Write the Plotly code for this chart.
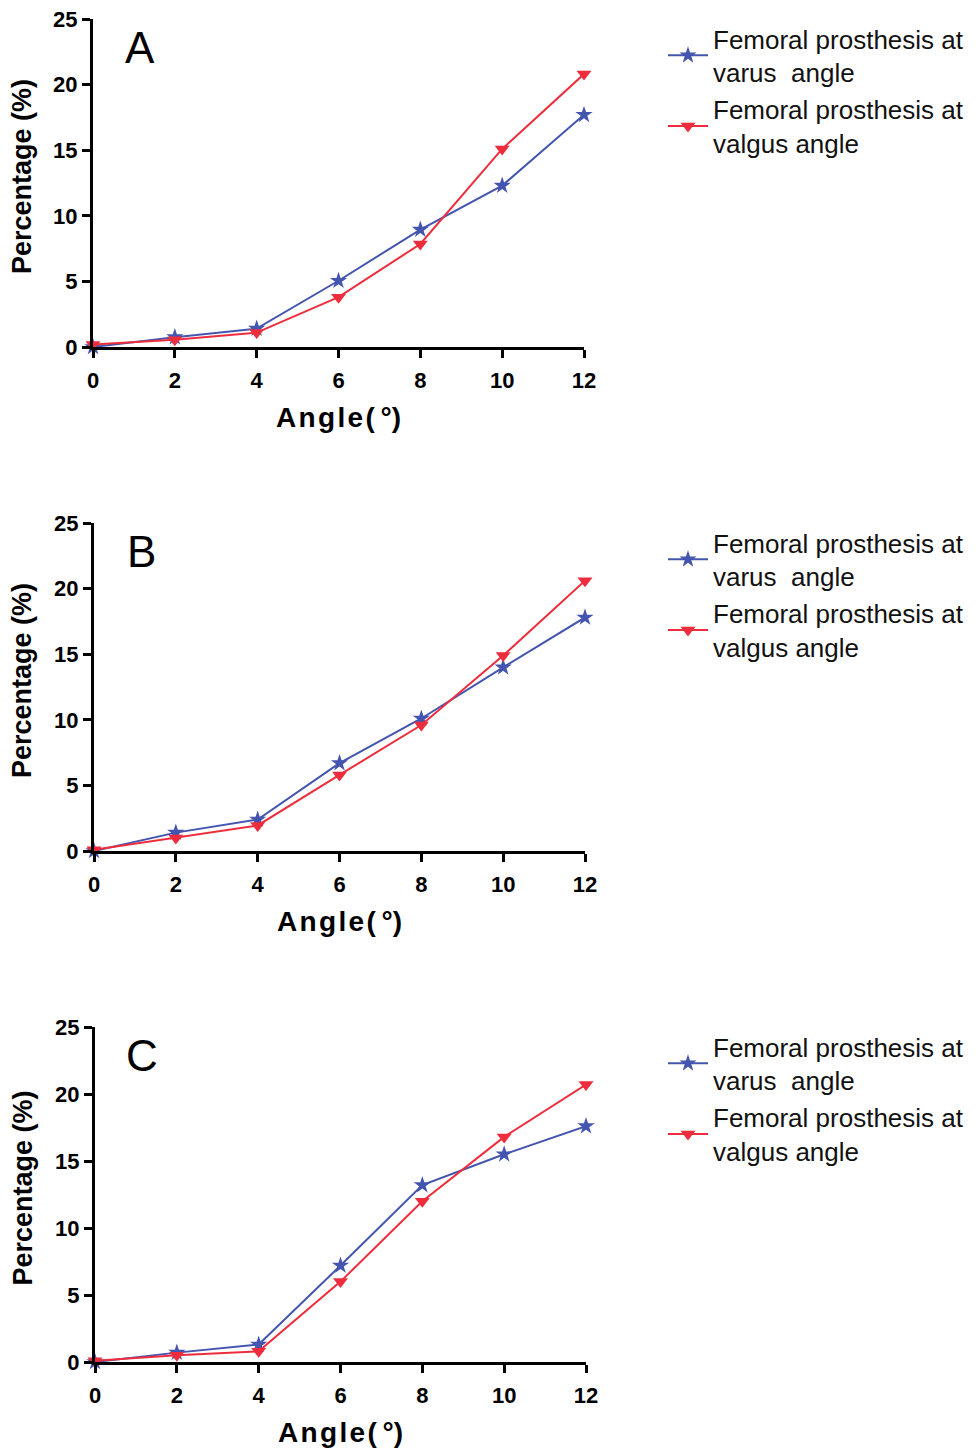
import plotly.graph_objects as go

angles = [0, 2, 4, 6, 8, 10, 12]
panels = ["A", "B", "C"]
varus_A = [0.0, 0.75, 1.4, 5.05, 8.95, 12.3, 17.7]
valgus_A = [0.2, 0.55, 1.1, 3.8, 7.85, 15.1, 20.8]
varus_B = [0.0, 1.4, 2.4, 6.7, 10.1, 14.0, 17.8]
valgus_B = [0.1, 1.0, 1.95, 5.8, 9.6, 14.9, 20.6]
varus_C = [0.0, 0.7, 1.3, 7.2, 13.2, 15.5, 17.6]
valgus_C = [0.1, 0.5, 0.8, 6.0, 12.0, 16.8, 20.7]
varus_name = "Femoral prosthesis at<br>varus  angle"
valgus_name = "Femoral prosthesis at<br>valgus angle"
y_ticks = [0, 5, 10, 15, 20, 25]
x_ticks = [0, 2, 4, 6, 8, 10, 12]
x_title = "A\u200an\u200ag\u200al\u200ae\u200a(\u2009°)"
y_title = "Percentage (%)"

BLUE = "#4455B0"
RED = "#EE2D3C"
OFF = 8  # page body margin
W, H = 978 - OFF, 1454 - OFF

series = [(varus_A, valgus_A), (varus_B, valgus_B), (varus_C, valgus_C)]
# pixel boxes in page coords (left, right, top, bottom)
boxes = [(93, 584, 19, 347), (94, 585, 523, 851), (95, 586, 1027, 1362)]

fig = go.Figure()
axis_common = dict(
    showline=True, linecolor="black", linewidth=3,
    ticks="outside", ticklen=8, tickwidth=2.5, tickcolor="black",
    showgrid=False, zeroline=False, automargin=False, ticklabeloverflow="allow",
    tickfont=dict(family="Liberation Sans", size=22, color="black", weight="bold"),
)
for i, (vr, vg) in enumerate(series):
    sfx = "" if i == 0 else str(i + 1)
    leg = "legend" + sfx
    fig.add_trace(go.Scatter(
        x=angles, y=vr, name=varus_name, mode="lines+markers",
        line=dict(color=BLUE, width=2),
        marker=dict(symbol="star", size=13, color=BLUE),
        xaxis="x" + sfx, yaxis="y" + sfx, legend=leg, cliponaxis=False))
    fig.add_trace(go.Scatter(
        x=angles, y=vg, name=valgus_name, mode="lines+markers",
        line=dict(color=RED, width=2),
        marker=dict(symbol="triangle-down", size=13, color=RED),
        xaxis="x" + sfx, yaxis="y" + sfx, legend=leg, cliponaxis=False))
    l, r, t, b = [v - OFF for v in boxes[i]]
    xd = [l / W, r / W]
    yd = [1 - b / H, 1 - t / H]
    fig.layout["xaxis" + sfx] = dict(
        axis_common, domain=xd, range=[0, 12], tickvals=x_ticks,
        anchor="y" + sfx, ticklabelstandoff=4,
        title=dict(text=x_title, standoff=15,
                   font=dict(family="Liberation Sans", size=28,
                             color="black", weight="bold")))
    fig.layout["yaxis" + sfx] = dict(
        axis_common, domain=yd, range=[0, 25], tickvals=y_ticks,
        anchor="x" + sfx)
    fig.add_annotation(
        x=(22 - OFF) / W, y=1 - ((t + b) / 2 - 6) / H, xref="paper", yref="paper",
        xanchor="center", yanchor="middle", textangle=-90,
        text=y_title, showarrow=False,
        font=dict(family="Liberation Sans", size=27, color="black", weight="bold"))
    fig.layout[leg] = dict(
        x=(663 - OFF) / W, y=1 - (t - 4) / H, xanchor="left", yanchor="top",
        font=dict(family="Liberation Sans", size=26, color="#111111"),
        bgcolor="rgba(0,0,0,0)", tracegroupgap=0, itemwidth=40)
    fig.add_annotation(
        x=(l + 47) / W, y=1 - (t + 28) / H, xref="paper", yref="paper",
        xanchor="center", yanchor="middle",
        text=panels[i], showarrow=False,
        font=dict(family="Liberation Sans", size=44, color="black"))

fig.update_layout(
    width=W, height=H, margin=dict(l=0, r=0, t=0, b=0),
    paper_bgcolor="white", plot_bgcolor="white", showlegend=True)
fig.write_html("out.html")
